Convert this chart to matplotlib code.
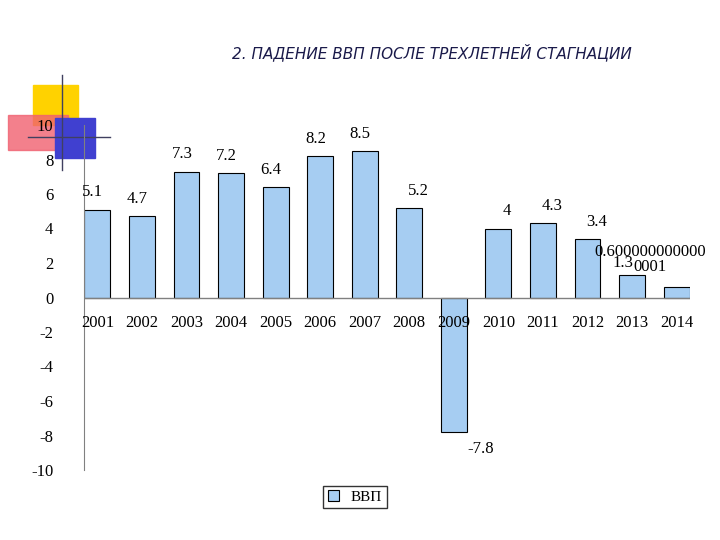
import matplotlib.pyplot as plt
from matplotlib.patches import Rectangle

years = ['2001', '2002', '2003', '2004', '2005', '2006', '2007',
         '2008', '2009', '2010', '2011', '2012', '2013', '2014']
gdp = [5.1, 4.7, 7.3, 7.2, 6.4, 8.2, 8.5, 5.2, -7.8, 4.0, 4.3, 3.4, 1.3, 0.6]
labels = ['5.1', '4.7', '7.3', '7.2', '6.4', '8.2', '8.5', '5.2', '-7.8',
          '4', '4.3', '3.4', '1.3', '0.600000000000\n0001']

plt.rcParams['font.family'] = ['Liberation Serif', 'DejaVu Serif']
plt.rcParams['axes.unicode_minus'] = False

fig = plt.figure(figsize=(7.2, 5.4), dpi=100)
fig.patch.set_facecolor('white')

# decorative squares top-left
fig.patches.append(Rectangle((33/720, 1-125/540), 45/720, 40/540, transform=fig.transFigure,
                             color='#ffd200', zorder=0))
fig.patches.append(Rectangle((8/720, 1-150/540), 60/720, 35/540, transform=fig.transFigure,
                             color='#f06070', alpha=0.8, zorder=0))
fig.patches.append(Rectangle((55/720, 1-158/540), 40/720, 40/540, transform=fig.transFigure,
                             color='#4040d0', zorder=0))
fig.lines.append(plt.Line2D([62/720, 62/720], [1-75/540, 1-170/540], transform=fig.transFigure,
                            color='#404060', lw=1))
fig.lines.append(plt.Line2D([28/720, 110/720], [1-137/540, 1-137/540], transform=fig.transFigure,
                            color='#404060', lw=1))

fig.text(0.6, 1-52/540, '2. ПАДЕНИЕ ВВП ПОСЛЕ ТРЕХЛЕТНЕЙ СТАГНАЦИИ',
         family=['DejaVu Sans'], fontsize=11, style='italic',
         color='#1a1a4a', ha='center', va='center')

ax = fig.add_axes([84/720, 1-470/540, 606/720, 345/540])
ax.set_zorder(5)
ax.patch.set_alpha(0)
x = list(range(len(years)))
ax.bar(x, gdp, width=0.58, color='#a6cdf2', edgecolor='black', linewidth=0.8, zorder=2,
       label='ВВП')
ax.set_xlim(-0.3, 13.3)
ax.set_ylim(-10, 10)
ax.set_yticks(range(-10, 11, 2))
ax.tick_params(axis='y', labelsize=12, length=0, pad=22)
ax.set_xticks([])
for s in ['top', 'right', 'bottom']:
    ax.spines[s].set_visible(False)
ax.spines['left'].set_color('#808080')
ax.axhline(0, color='#808080', lw=1)

for i, (v, t) in enumerate(zip(gdp, labels)):
    if v < 0:
        ax.text(i + 0.6, v - 1.0, t, ha='center', va='center', fontsize=12)
    elif i == 13:
        ax.text(i - 0.6, 2.2, t, ha='center', va='center', fontsize=12, linespacing=0.9)
    elif i == 12:
        ax.text(i - 0.2, 2.0, t, ha='center', va='center', fontsize=12)
    else:
        ax.text(i - 0.1 if i < 7 else i + 0.2, v + 1.0, t, ha='center', va='center', fontsize=12)
    ax.text(i, -1.5, years[i], ha='center', va='center', fontsize=12)

fig.legend(loc='center', bbox_to_anchor=(355/720, 1-497/540), fontsize=11, frameon=True,
           fancybox=False, edgecolor='black', handlelength=0.7, handleheight=0.7,
           borderpad=0.3)

fig.savefig('out.png', dpi=100)
